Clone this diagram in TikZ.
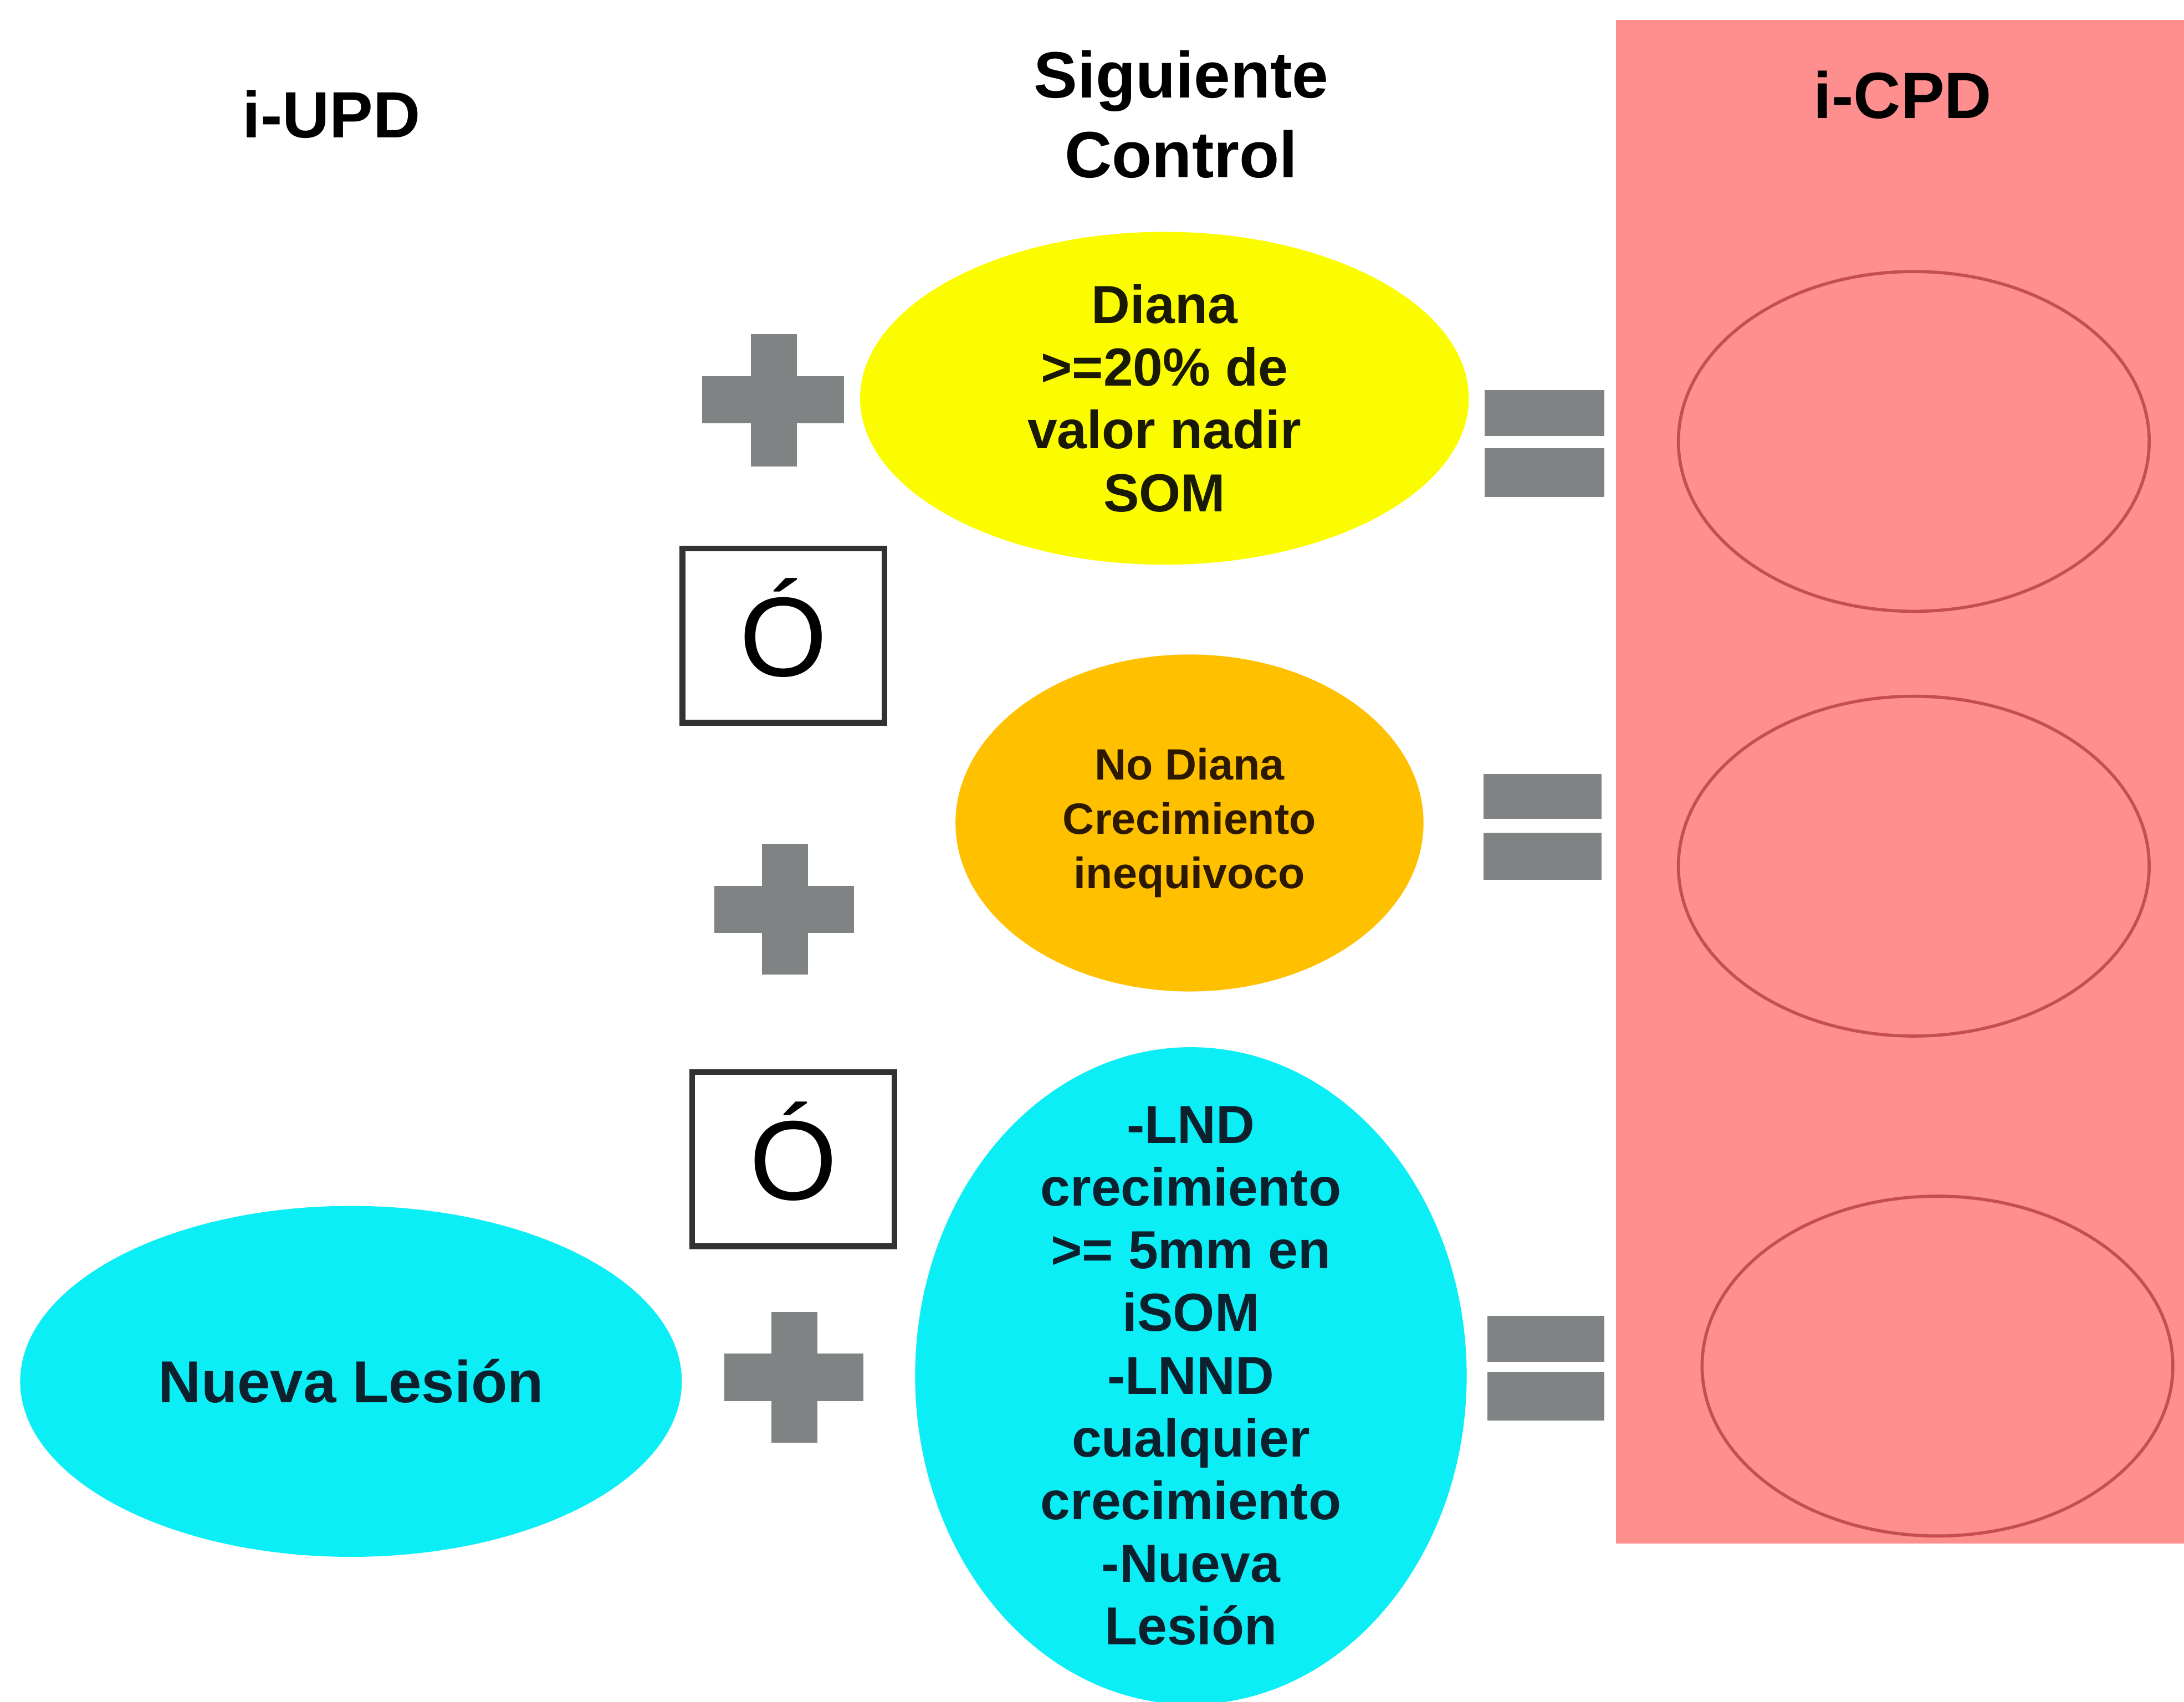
\documentclass[tikz,border=0pt]{standalone}
\usepackage{fontspec}
\setmainfont{Liberation Sans}
\usetikzlibrary{shapes.geometric}
\definecolor{plusgray}{RGB}{128,131,132}
\definecolor{ylw}{RGB}{252,252,0}
\definecolor{org}{RGB}{255,192,0}
\definecolor{cyn}{RGB}{12,238,245}
\definecolor{pnk}{RGB}{255,142,142}
\definecolor{ringc}{RGB}{196,78,80}
\definecolor{navy}{RGB}{12,32,45}
\definecolor{brn}{RGB}{45,25,0}
\definecolor{boxc}{RGB}{50,50,50}
\def\s{0.025134cm}
\begin{document}
\begin{tikzpicture}[x=0.025134cm, y=-0.025134cm,
  blob/.style={ellipse, inner sep=0pt, draw=none},
  ringell/.style={ellipse, draw=ringc, line width=1.6pt, inner sep=0pt, minimum width=338*\s, minimum height=244*\s},
  obox/.style={rectangle, draw=boxc, line width=2.9pt, minimum width=145*\s, minimum height=125*\s,
    font=\fontsize{58}{60}\selectfont, text height=41.5pt, text depth=0pt, inner sep=0pt},
  titletxt/.style={font=\bfseries\fontsize{33.6}{40.8}\selectfont, align=center},
  bodytxt/.style={font=\bfseries\fontsize{27.5}{32.2}\selectfont, align=center},
  smalltxt/.style={font=\bfseries\fontsize{22.5}{27.9}\selectfont, align=center},
  signfill/.style={fill=plusgray}
]
\fill[white] (0,0) rectangle (1568,1222);
\useasboundingbox (0,0) rectangle (1568,1222);

% right panel
\node[rectangle, fill=pnk, inner sep=0pt, minimum width=408*\s, minimum height=1094*\s, anchor=north west] (panel) at (1160,14) {};

% titles
\node[titletxt] (tupd) at (238,82) {i-UPD};
\node[titletxt] (tsig) at (848,82) {Siguiente\\Control};
\node[titletxt] (tcpd) at (1366,68) {i-CPD};

% ellipses
\node[blob, fill=ylw, minimum width=437*\s, minimum height=239*\s] (e1) at (836,286) {};
\node[bodytxt, text={rgb,255:red,25;green,25;blue,5}] (t1) at (e1) {Diana\\>=20\% de\\valor nadir\\SOM};

\node[blob, fill=org, minimum width=336*\s, minimum height=242*\s] (e2) at (854,591) {};
\node[smalltxt, text=brn] (t2) at (e2) {No Diana\\Crecimiento\\inequivoco};

\node[blob, fill=cyn, minimum width=396*\s, minimum height=472*\s] (e3) at (855,988) {};
\node[bodytxt, text=navy] (t3) at (e3) {-LND\\crecimiento\\>= 5mm en\\iSOM\\-LNND\\cualquier\\crecimiento\\-Nueva\\Lesión};

\node[blob, fill=cyn, minimum width=475*\s, minimum height=252*\s] (nl) at (252,992) {};
\node[font=\bfseries\fontsize{30.4}{36}\selectfont, text=navy] (tnl) at (nl) {Nueva Lesión};

% ring ellipses in panel
\node[ringell] (r1) at (1374,317) {};
\node[ringell] (r2) at (1374,622) {};
\node[ringell] (r3) at (1391,981) {};

% O boxes
\node[obox] (o1) at (562.5,456.5) {Ó};
\node[obox] (o2) at (569.5,832.5) {Ó};

% plus signs
\fill[signfill] (504,270) rectangle (606,304);
\fill[signfill] (539,240) rectangle (572,335);
\fill[signfill] (513,636) rectangle (613,670);
\fill[signfill] (547,606) rectangle (580,700);
\fill[signfill] (520,972) rectangle (620,1006);
\fill[signfill] (554,942) rectangle (587,1036);

% equals signs
\fill[signfill] (1066,280) rectangle (1152,313);
\fill[signfill] (1066,322) rectangle (1152,357);
\fill[signfill] (1065,556) rectangle (1150,588);
\fill[signfill] (1065,598) rectangle (1150,632);
\fill[signfill] (1068,945) rectangle (1152,978);
\fill[signfill] (1068,985) rectangle (1152,1020);
\end{tikzpicture}
\end{document}
